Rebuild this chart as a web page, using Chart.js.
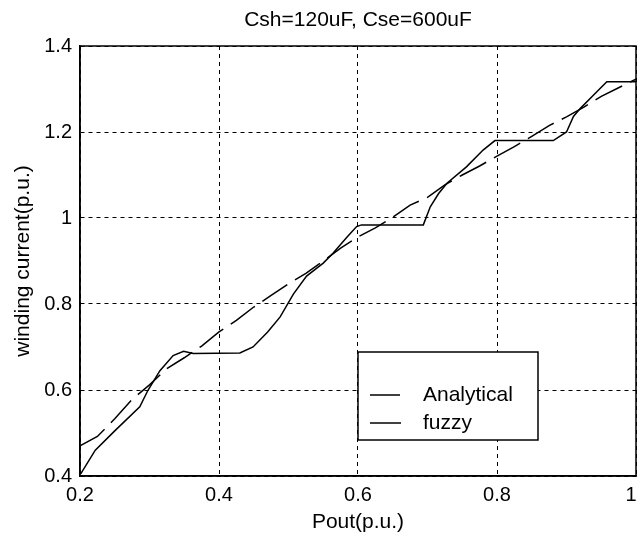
<!DOCTYPE html>
<html>
<head>
<meta charset="utf-8">
<script src="https://cdn.jsdelivr.net/npm/chart.js@4"></script>
<style>
  html, body { margin: 0; padding: 0; background: #fff; overflow: hidden; }
</style>
</head>
<body>
<canvas id="chart" width="637" height="535"></canvas>
<script>
// data
const analyticalX = [0.2, 0.225, 0.25, 0.275, 0.3, 0.325, 0.35, 0.375, 0.4, 0.425, 0.45, 0.475, 0.5, 0.525, 0.55, 0.575, 0.6,
    0.625, 0.65, 0.675, 0.7, 0.725, 0.75, 0.775, 0.8, 0.825, 0.85, 0.875, 0.9, 0.925, 0.95, 0.975, 1.0];
const analyticalY = [0.47, 0.492, 0.533, 0.578, 0.612, 0.65, 0.675, 0.702, 0.735, 0.762, 0.793, 0.82, 0.847, 0.871, 0.9, 0.93, 0.956,
    0.977, 1.002, 1.03, 1.048, 1.077, 1.1, 1.121, 1.144, 1.166, 1.19, 1.215, 1.235, 1.258, 1.283, 1.303, 1.323];

const fuzzyX = [0.201, 0.222, 0.25, 0.286, 0.298, 0.315, 0.334, 0.349, 0.363, 0.43, 0.449, 0.47, 0.488, 0.507, 0.526, 0.55,
    0.564, 0.584, 0.598, 0.605, 0.694, 0.704, 0.716, 0.728, 0.756, 0.78, 0.797, 0.881, 0.9, 0.91, 0.92, 0.939, 0.958, 1.0];
const fuzzyY = [0.405, 0.46, 0.505, 0.561, 0.6, 0.645, 0.68, 0.69, 0.685, 0.686, 0.7, 0.735, 0.77, 0.823, 0.865, 0.895,
    0.918, 0.955, 0.98, 0.984, 0.984, 1.026, 1.057, 1.081, 1.119, 1.158, 1.18, 1.18, 1.2, 1.236, 1.255, 1.286, 1.317, 1.317];

const xTicks = [0.2, 0.4, 0.6, 0.8, 1];
const yTicks = [0.4, 0.6, 0.8, 1, 1.2, 1.4];
const titleText = 'Csh=120uF, Cse=600uF';

const toPoints = (xs, ys) => xs.map((x, i) => ({ x: x, y: ys[i] }));
const fmt = (v) => String(Number(v.toFixed(2)));

Chart.defaults.font.family = '"Liberation Sans", Arial, sans-serif';
Chart.defaults.color = '#000';

// box round the plot + title centred over the plot, like matlab
const frame = {
    id: 'frame',
    afterDraw(chart) {
        const { ctx, chartArea: a } = chart;
        ctx.save();
        ctx.strokeStyle = '#000';
        ctx.lineWidth = 1.5;
        ctx.strokeRect(a.left, a.top, a.right - a.left, a.bottom - a.top);
        ctx.fillStyle = '#000';
        ctx.font = '21px "Liberation Sans", Arial, sans-serif';
        ctx.textAlign = 'center';
        ctx.textBaseline = 'middle';
        ctx.fillText(titleText, (a.left + a.right) / 2, 20);
        ctx.restore();
    }
};

const boxLegend = {
    id: 'boxLegend',
    afterDatasetsDraw(chart) {
        const ctx = chart.ctx;
        const x = 358, y = 352, w = 180, h = 88;
        ctx.save();
        ctx.fillStyle = '#fff';
        ctx.fillRect(x, y, w, h);
        ctx.strokeStyle = '#000';
        ctx.lineWidth = 1.5;
        ctx.strokeRect(x, y, w, h);
        ctx.font = '21px "Liberation Sans", Arial, sans-serif';
        ctx.textBaseline = 'middle';
        chart.data.datasets.forEach((ds, i) => {
            const ly = y + 43 + i * 28;
            ctx.beginPath();
            ctx.setLineDash(ds.borderDash || []);
            ctx.lineWidth = ds.borderWidth;
            ctx.moveTo(x + 12, ly);
            ctx.lineTo(x + 43, ly);
            ctx.stroke();
            ctx.setLineDash([]);
            ctx.fillStyle = '#000';
            ctx.fillText(ds.label, x + 65, ly);
        });
        ctx.restore();
    }
};

const config = {
    type: 'scatter',
    data: {
        datasets: [{
            label: 'Analytical',
            data: toPoints(analyticalX, analyticalY),
            showLine: true,
            borderColor: '#000',
            borderWidth: 1.5,
            borderDash: [30, 9],
            pointRadius: 0,
            tension: 0
        }, {
            label: 'fuzzy',
            data: toPoints(fuzzyX, fuzzyY),
            showLine: true,
            borderColor: '#000',
            borderWidth: 1.5,
            pointRadius: 0,
            tension: 0
        }]
    },
    options: {
        responsive: false,
        animation: false,
        devicePixelRatio: 1,
        layout: { padding: { top: 46, left: 0, right: 1, bottom: 0 } },
        plugins: {
            legend: { display: false },
            tooltip: { enabled: false },
            title: { display: false }
        },
        scales: {
            x: {
                type: 'linear',
                min: 0.2,
                max: 1,
                afterBuildTicks: (s) => { s.ticks = xTicks.map(v => ({ value: v })); },
                afterFit: (s) => { s.height = 59; s.paddingRight = 0; s.paddingLeft = 0; },
                ticks: {
                    font: { size: 20 },
                    padding: 7,
                    maxRotation: 0,
                    // last label nudged left so it is not cut at the window edge
                    callback: (v) => v === 1 ? '1\u2002' : fmt(v)
                },
                grid: { color: '#000', lineWidth: 1, drawTicks: false },
                border: { display: true, color: '#000', width: 1.5, dash: [4, 4] },
                title: { display: true, text: 'Pout(p.u.)', font: { size: 21 }, padding: { top: 0, bottom: 0 } }
            },
            y: {
                type: 'linear',
                min: 0.4,
                max: 1.4,
                afterBuildTicks: (s) => { s.ticks = yTicks.map(v => ({ value: v })); },
                afterFit: (s) => { s.width = 80; s.paddingTop = 0; },
                ticks: { font: { size: 20 }, padding: 8, callback: (v) => fmt(v) },
                grid: { color: '#000', lineWidth: 1, drawTicks: false },
                border: { display: true, color: '#000', width: 1.5, dash: [4, 4] },
                title: { display: true, text: 'winding current(p.u.)', font: { size: 21 }, padding: { top: 11, bottom: 0 } }
            }
        }
    },
    plugins: [frame, boxLegend]
};

const myChart = new Chart(document.getElementById('chart'), config);
</script>
</body>
</html>
